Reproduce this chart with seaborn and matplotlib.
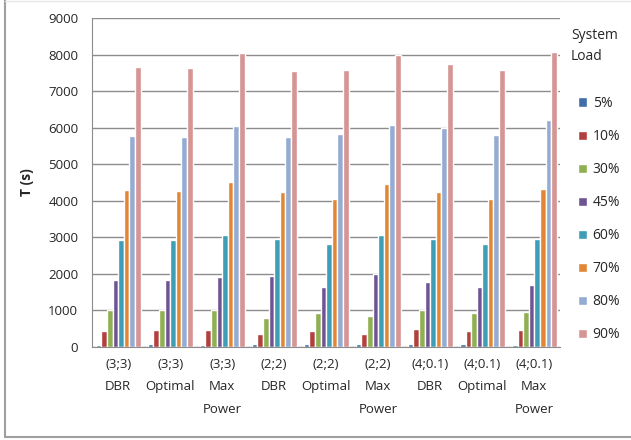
import pandas as pd
import seaborn as sns
import matplotlib.pyplot as plt

# Categories on the x axis
configs = ["(3;3)\nDBR", "(3;3)\nOptimal", "(3;3)\nMax\nPower",
           "(2;2)\nDBR", "(2;2)\nOptimal", "(2;2)\nMax\nPower",
           "(4;0.1)\nDBR", "(4;0.1)\nOptimal", "(4;0.1)\nMax\nPower"]
loads = ["5%", "10%", "30%", "45%", "60%", "70%", "80%", "90%"]

# T (s) per system load, one value per config
load_5 = [50, 80, 50, 80, 80, 80, 80, 80, 40]
load_10 = [420, 460, 460, 350, 420, 350, 490, 420, 460]
load_30 = [1000, 1000, 1000, 800, 910, 840, 1010, 910, 950]
load_45 = [1820, 1820, 1900, 1930, 1630, 2000, 1780, 1630, 1700]
load_60 = [2920, 2920, 3060, 2960, 2800, 3060, 2950, 2800, 2950]
load_70 = [4300, 4270, 4500, 4230, 4050, 4460, 4240, 4050, 4310]
load_80 = [5780, 5750, 6050, 5750, 5820, 6080, 6000, 5800, 6200]
load_90 = [7650, 7620, 8050, 7550, 7580, 8000, 7730, 7580, 8080]

series = [load_5, load_10, load_30, load_45, load_60, load_70, load_80, load_90]
rows = []
for load, vals in zip(loads, series):
    for cfg, v in zip(configs, vals):
        rows.append({"Config": cfg, "System Load": load, "T (s)": v})
df = pd.DataFrame(rows)

palette = ["#3F6EA8", "#B0413E", "#8FAF50", "#6E5494",
           "#3F9DB5", "#E38634", "#94ABD3", "#D49593"]

sns.set_style("white")
plt.rcParams['font.family'] = ['Open Sans', 'DejaVu Sans']

W, H = 631, 440
fig = plt.figure(figsize=(W / 100, H / 100), dpi=100)
ax = fig.add_axes([0.146, 0.212, 0.742, 0.747])

sns.barplot(data=df, x="Config", y="T (s)", hue="System Load",
            hue_order=loads, order=configs, palette=palette,
            width=0.86, saturation=1, ax=ax)

ax.set_ylim(0, 9000)
ax.set_yticks(range(0, 9001, 1000))
ax.yaxis.grid(True, color="#8c8c8c", linewidth=1)
ax.set_axisbelow(True)
for side in ["top", "right"]:
    ax.spines[side].set_visible(False)
ax.spines["left"].set_color("#8c8c8c")
ax.spines["bottom"].set_color("#8c8c8c")
ax.tick_params(axis="y", length=4, color="#8c8c8c", labelsize=9.5, pad=6)
ax.tick_params(axis="x", length=0, labelsize=9.5, pad=8)
ax.set_xlabel("")
ax.set_ylabel("T (s)", fontsize=10, fontweight="bold", labelpad=10)
for lbl in ax.get_xticklabels():
    lbl.set_linespacing(1.95)
    lbl.set_verticalalignment("top")

leg = ax.legend(loc="upper left", bbox_to_anchor=(578 / W, 1 - 96 / H),
                bbox_transform=fig.transFigure, frameon=False,
                handlelength=0.65, handleheight=0.65, handletextpad=0.4,
                labelspacing=1.3, fontsize=10, borderaxespad=0, borderpad=0)
fig.text(571 / W, 1 - 28 / H, "System\nLoad", fontsize=10, ha="left", va="top",
         linespacing=1.5)

# chart frame
border = dict(color="#a0a0a0", linewidth=1.5, transform=fig.transFigure)
fig.add_artist(plt.Line2D([5 / W, 5 / W], [3 / H, 1], **border))
fig.add_artist(plt.Line2D([5 / W, 1], [3 / H, 3 / H], **border))
fig.add_artist(plt.Line2D([5 / W, 1], [1 - 1 / H, 1 - 1 / H], color="#e6e6e6",
                          linewidth=1, transform=fig.transFigure))

plt.savefig("out.png", dpi=100)
